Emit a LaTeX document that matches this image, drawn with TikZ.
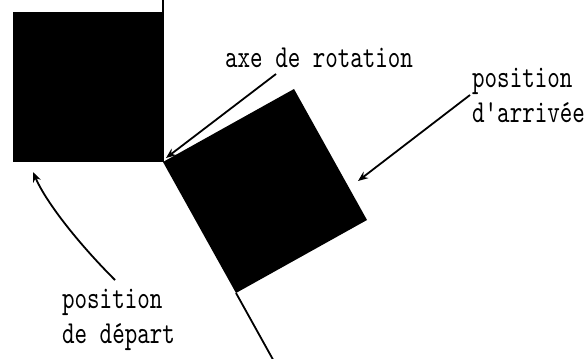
\documentclass[tikz,border=0pt]{standalone}
\usepackage{fontspec}
\setmonofont{lmmono10-regular.otf}[FakeStretch=0.745]
\usetikzlibrary{arrows.meta}

\tikzset{
  libelle/.style={font=\fontsize{32}{35}\selectfont\ttfamily,
    inner sep=0pt, align=left, anchor=base west},
  fleche/.style={line width=1.8pt, -{Stealth[length=10pt,width=8pt]}}
}

\begin{document}
\begin{tikzpicture}[x=1pt,y=-1pt]
            \useasboundingbox (0,0) rectangle (585,358);
            \clip (0,0) rectangle (585,358);
            % carre de depart
            \coordinate (O) at (163,162);
            \coordinate (A) at (13,162);
            \coordinate (B) at (13,12);
            \coordinate (C) at (163,12);
            \coordinate (H) at (163,0);
            % carre d'arrivee
            \coordinate (T) at (294,89);
            \coordinate (R) at (367,220);
            \coordinate (S) at (236,293);
            \coordinate (K) at (276,365);
            \fill (O)--(A)--(B)--(C)--cycle;
            \fill (O)--(T)--(R)--(S)--cycle;
            \draw[line width=1.8pt](H)--(O);
            \draw[line width=1.8pt](S)--(K);
            % textes (ancre sur la derniere ligne)
            \node[libelle](axe) at (225,68) {axe de rotation};
            \node[libelle](arr) at (472,123) {position\\d'arrivée};
            \node[libelle](dep) at (62,343) {position\\de départ};
            \coordinate (a1) at (276,74);
            \coordinate (a2) at (166,158);
            \coordinate (b1) at (470,95);
            \coordinate (b2) at (358,181);
            \coordinate (c1) at (115,280);
            \coordinate (c2) at (33,172);
            \draw[fleche](a1)--(a2);
            \draw[fleche](b1)--(b2);
            \draw[fleche](c1)..controls(75,240)and(45,200)..(c2);
        \end{tikzpicture}
\end{document}
